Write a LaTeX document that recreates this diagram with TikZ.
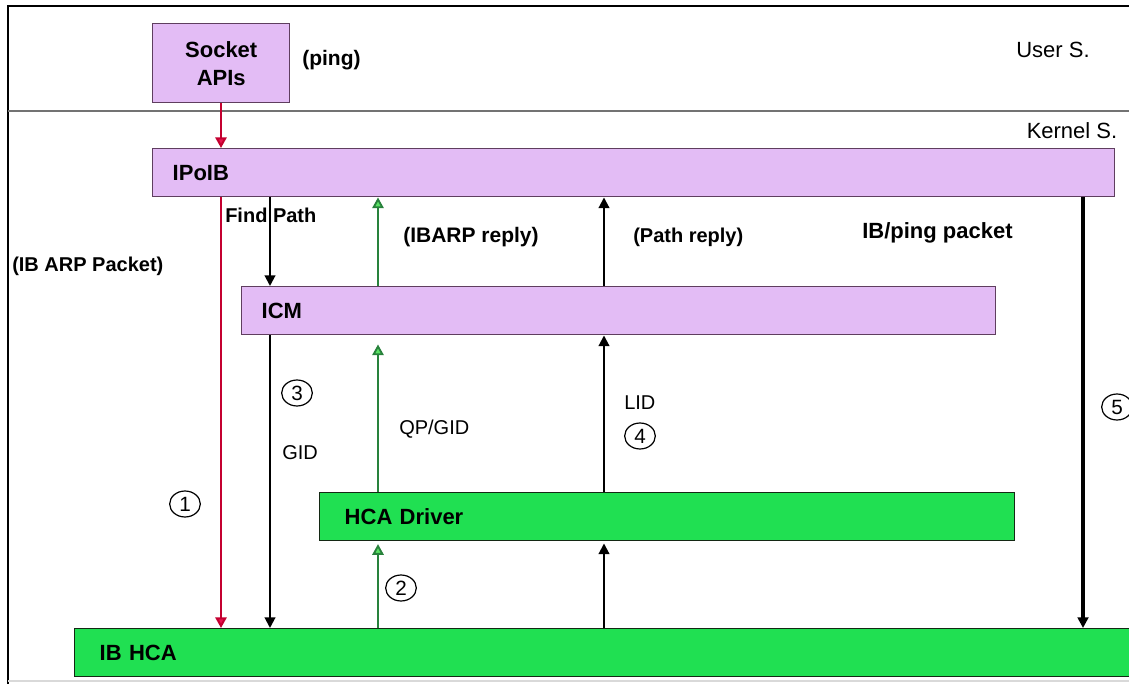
\documentclass[tikz,border=0pt]{standalone}
\usepackage{fontspec}
\setmainfont{Liberation Sans}
\usetikzlibrary{arrows.meta,shapes.geometric}

\definecolor{lav}{RGB}{227,188,245}
\definecolor{lavedge}{RGB}{95,62,95}
\definecolor{grn}{RGB}{32,224,82}
\definecolor{grnedge}{RGB}{20,40,20}
\definecolor{redline}{RGB}{196,0,48}
\definecolor{redtip}{RGB}{230,20,80}
\definecolor{gline}{RGB}{40,130,60}
\definecolor{gtip}{RGB}{90,225,100}

\begin{document}
\begin{tikzpicture}[x=0.75pt,y=-0.75pt,
  purplebox/.style={draw=lavedge,fill=lav,line width=1.1pt,rectangle,anchor=north west,
    minimum height=36pt,inner xsep=15pt,inner ysep=0pt,align=left,
    font=\fontsize{16.5}{18}\selectfont\bfseries},
  greenbox/.style={purplebox,draw=grnedge,fill=grn,inner xsep=18.75pt},
  lbl/.style={anchor=west,inner sep=0pt,font=\fontsize{15}{17}\selectfont\bfseries},
  plain/.style={anchor=west,inner sep=0pt,font=\fontsize{15}{17}\selectfont},
  space/.style={inner sep=0pt,font=\fontsize{16.5}{18}\selectfont},
  num/.style={ellipse,draw,line width=0.9pt,minimum width=23pt,minimum height=19.5pt,
    inner sep=0pt,font=\fontsize{15.5}{15}\selectfont},
  blk/.style={-{Triangle[length=8pt,width=8pt]},line width=1.5pt},
  redarr/.style={draw=redline,-{Triangle[length=8pt,width=8.5pt,fill=redtip]},line width=1.5pt},
  grnarr/.style={draw=gline,-{Triangle[length=8pt,width=8.5pt,fill=gtip]},line width=1.4pt},
]
\useasboundingbox (0,0) rectangle (1129,684);
\clip (0,0) rectangle (1129,684);
\fill[white] (0,0) rectangle (1129,684);

% frame and user/kernel separator
\draw[line width=1.5pt] (8,684) -- (8,6) -- (1129,6);
\draw[black!15,line width=1pt] (8,681) -- (1129,681);
\draw[black!55,line width=1.4pt] (8,111) -- (1129,111);

\node[space] (user) at (1053,50) {User S.};
\node[space] (kern) at (1072,131) {Kernel S.};

% layers
\node[purplebox,minimum width=102.75pt,minimum height=59.25pt,inner xsep=0pt,align=center,
      font=\fontsize{16.5}{21}\selectfont\bfseries] (sock) at (152,23)
      {Socket\\APIs};
\node[purplebox,minimum width=721.5pt,text width=691.5pt] (ipoib) at (152,148) {IPoIB};
\node[purplebox,minimum width=565.5pt,text width=535.5pt] (icm) at (241,286) {ICM};
\node[greenbox,minimum width=521.25pt,text width=483.75pt] (drv) at (319,492) {HCA Driver};
\node[greenbox,minimum width=795.75pt,text width=758.25pt] (hca) at (74,628) {IB HCA};

\node[lbl,font=\fontsize{15.75}{17}\selectfont\bfseries] (ping) at (302,60) {(ping)};

% columns of the connectors
\coordinate (c1) at (221,0);
\coordinate (c2) at (270,0);
\coordinate (c3) at (378,0);
\coordinate (c4) at (604,0);
\coordinate (c5) at (1083,0);

% connectors
\draw[redarr] (sock.south -| c1) -- (ipoib.north -| c1);
\draw[redarr] (ipoib.south -| c1) -- (hca.north -| c1);
\draw[blk] (ipoib.south -| c2) -- (icm.north -| c2);
\draw[blk] (icm.south -| c2) -- (hca.north -| c2);
\draw[grnarr] (icm.north -| c3) -- (ipoib.south -| c3);
\draw[grnarr,shorten >=6.75pt] (drv.north -| c3) -- (icm.south -| c3);
\draw[grnarr,shorten >=2pt] (hca.north -| c3) -- (drv.south -| c3);
\draw[blk] (icm.north -| c4) -- (ipoib.south -| c4);
\draw[blk] (drv.north -| c4) -- (icm.south -| c4);
\draw[blk,shorten >=1.5pt] (hca.north -| c4) -- (drv.south -| c4);
\draw[blk,line width=2.4pt] (ipoib.south -| c5) -- (hca.north -| c5);

% labels
\node[lbl] (fp) at (225,215) {Find Path};
\node[lbl] (arp) at (12,266) {(IB ARP Packet)};
\node[lbl,font=\fontsize{15.75}{17}\selectfont\bfseries] (arprep) at (403,237) {(IBARP reply)};
\node[lbl] (prep) at (633,237) {(Path reply)};
\node[lbl,font=\fontsize{16.5}{18}\selectfont\bfseries] (pkt) at (862,233) {IB/ping packet};
\node[plain] (gid) at (282,453) {GID};
\node[plain] (qpgid) at (399,429) {QP/GID};
\node[plain] (lid) at (624,403) {LID};

% step numbers
\node[num] (n1) at (185,504) {1};
\node[num] (n2) at (401,588) {2};
\node[num] (n3) at (297,393) {3};
\node[num] (n4) at (640,436) {4};
\node[num] (n5) at (1117,407) {5};
\end{tikzpicture}
\end{document}
